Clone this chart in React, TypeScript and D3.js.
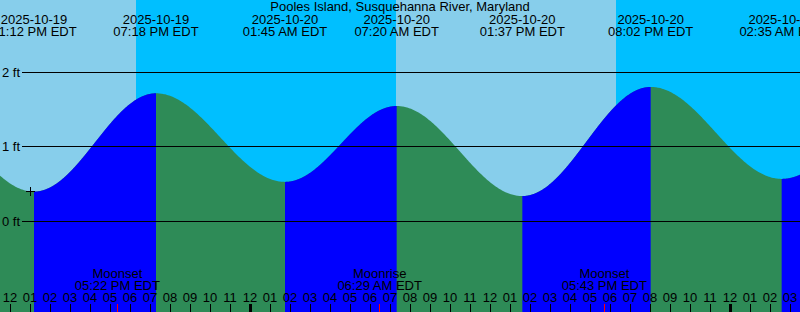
import React from "react";
import * as d3 from "d3";

const W = 800;
const H = 312;
const title = "Pooles Island, Susquehanna River, Maryland";
const domainStart = "2025-10-19T11:30";
const domainEnd = "2025-10-21T03:30";

// High / low tide extremes (first and last are just outside the view)
const extremeTimes = [
  "2025-10-19T06:45",
  "2025-10-19T13:12",
  "2025-10-19T19:18",
  "2025-10-20T01:45",
  "2025-10-20T07:20",
  "2025-10-20T13:37",
  "2025-10-20T20:02",
  "2025-10-21T02:35",
  "2025-10-21T08:45",
];
const extremeHeights = [1.72, 0.4, 1.715, 0.53, 1.545, 0.34, 1.8, 0.57, 1.62];

const sunriseTimes = ["2025-10-19T07:16", "2025-10-20T07:17", "2025-10-21T07:18"];
const sunsetTimes = ["2025-10-19T18:17", "2025-10-20T18:18"];

const moonLabels = ["Moonset", "Moonrise", "Moonset"];
const moonTimes = ["2025-10-19T17:22", "2025-10-20T06:29", "2025-10-20T17:43"];

const yTicks = [0, 1, 2];
const markTime = "2025-10-19T13:00";

const SKY_DAY = "#87CEEB";
const SKY_NIGHT = "#00BFFF";
const FLOOD = "#0000FF";
const EBB = "#2E8B57";
const FONT = "'Liberation Sans', Arial, sans-serif";

const parse = (s: string) => new Date(s);

export default function App() {
  const t0 = parse(domainStart);
  const t1 = parse(domainEnd);
  const x = d3.scaleTime().domain([t0, t1]).range([0, W]);
  const y = d3.scaleLinear().domain([0, 2]).range([221.5, 72]);

  const ext = extremeTimes.map((s, i) => ({ t: parse(s).getTime(), h: extremeHeights[i] }));

  const heightAt = (tm: number) => {
    for (let i = 0; i < ext.length - 1; i++) {
      const a = ext[i], b = ext[i + 1];
      if (tm >= a.t && tm <= b.t) {
        const f = (tm - a.t) / (b.t - a.t);
        return b.h + (a.h - b.h) * (1 + Math.cos(Math.PI * f)) / 2;
      }
    }
    return ext[0].h;
  };

  const area = d3
    .area<number>()
    .x((tm) => x(new Date(tm)))
    .y0(H)
    .y1((tm) => y(heightAt(tm)));

  const fullSamples: number[] = [];
  for (let px = 0; px <= W; px += 1) fullSamples.push(x.invert(px).getTime());

  const rising: number[][] = [];
  for (let i = 0; i < ext.length - 1; i++) {
    if (ext[i + 1].h > ext[i].h) {
      const a = Math.max(ext[i].t, t0.getTime());
      const b = Math.min(ext[i + 1].t, t1.getTime());
      if (b <= a) continue;
      const pts: number[] = [];
      const step = 60 * 1000;
      for (let tm = a; tm < b; tm += step) pts.push(tm);
      pts.push(b);
      rising.push(pts);
    }
  }

  const dayRects = sunriseTimes
    .map((s, i) => ({ a: parse(s), b: sunsetTimes[i] ? parse(sunsetTimes[i]) : t1 }))
    .map((d) => ({
      a: Math.max(x(d.a), 0),
      b: Math.min(x(d.b), W),
    }))
    .filter((d) => d.b > d.a);

  const hours = d3.timeHour.range(t0, new Date(t1.getTime() + 1));
  const fmtHour = d3.timeFormat("%I");
  const fmtDate = d3.timeFormat("%Y-%m-%d");
  const fmtTime = d3.timeFormat("%I:%M %p EDT");

  const visibleExt = ext.filter((e) => e.t >= t0.getTime() && e.t <= t1.getTime());
  const moon = moonTimes.map((s, i) => ({ t: parse(s), label: moonLabels[i] }));

  const mt = parse(markTime);
  const mx = Math.round(x(mt));
  const my = Math.round(y(heightAt(mt.getTime())));

  return (
    <svg
      width={W}
      height={H}
      style={{ position: "absolute", left: 0, top: 0, display: "block" }}
      fontFamily={FONT}
      fontSize={13}
    >
      <rect x={0} y={0} width={W} height={H} fill={SKY_NIGHT} />
      {dayRects.map((d, i) => (
        <rect key={i} x={d.a} y={0} width={d.b - d.a} height={H} fill={SKY_DAY} shapeRendering="crispEdges" />
      ))}
      <path d={area(fullSamples) || ""} fill={EBB} />
      {rising.map((pts, i) => (
        <path key={i} d={area(pts) || ""} fill={FLOOD} />
      ))}

      {yTicks.map((v) => {
        const yy = Math.floor(y(v)) + 0.5;
        return (
          <g key={v}>
            <line x1={22} x2={W} y1={yy} y2={yy} stroke="#000" strokeWidth={1} shapeRendering="crispEdges" />
            <text x={2} y={yy + 4.5} fill="#000">{`${v} ft`}</text>
          </g>
        );
      })}

      <g stroke="#000" strokeWidth={1} shapeRendering="crispEdges">
        <line x1={mx - 4} x2={mx + 5} y1={my + 0.5} y2={my + 0.5} />
        <line x1={mx + 0.5} x2={mx + 0.5} y1={my - 4} y2={my + 5} />
      </g>

      <text x={W / 2} y={11} textAnchor="middle" fill="#000">{title}</text>
      {visibleExt.map((e, i) => {
        const d = new Date(e.t);
        const xx = x(d);
        return (
          <g key={i}>
            <text x={xx} y={23.5} textAnchor="middle" fill="#000">{fmtDate(d)}</text>
            <text x={xx} y={35.5} textAnchor="middle" fill="#000">{fmtTime(d)}</text>
          </g>
        );
      })}

      {moon.map((m, i) => {
        const xx = x(m.t);
        return (
          <g key={i}>
            <text x={xx} y={277.5} textAnchor="middle" fill="#000">{m.label}</text>
            <text x={xx} y={289.5} textAnchor="middle" fill="#000">{fmtTime(m.t)}</text>
            <line
              x1={Math.floor(xx) + 0.5}
              x2={Math.floor(xx) + 0.5}
              y1={304}
              y2={H}
              stroke="#FF0000"
              strokeWidth={1}
              shapeRendering="crispEdges"
            />
          </g>
        );
      })}

      {hours.map((h, i) => {
        const xx = Math.round(x(h));
        const midnight = h.getHours() === 0;
        return (
          <g key={i}>
            <text x={xx} y={302} textAnchor="middle" fill="#000">{fmtHour(h)}</text>
            <line
              x1={xx + 0.5}
              x2={xx + 0.5}
              y1={304}
              y2={H}
              stroke="#000"
              strokeWidth={midnight ? 3 : 1}
              shapeRendering="crispEdges"
            />
          </g>
        );
      })}
    </svg>
  );
}
